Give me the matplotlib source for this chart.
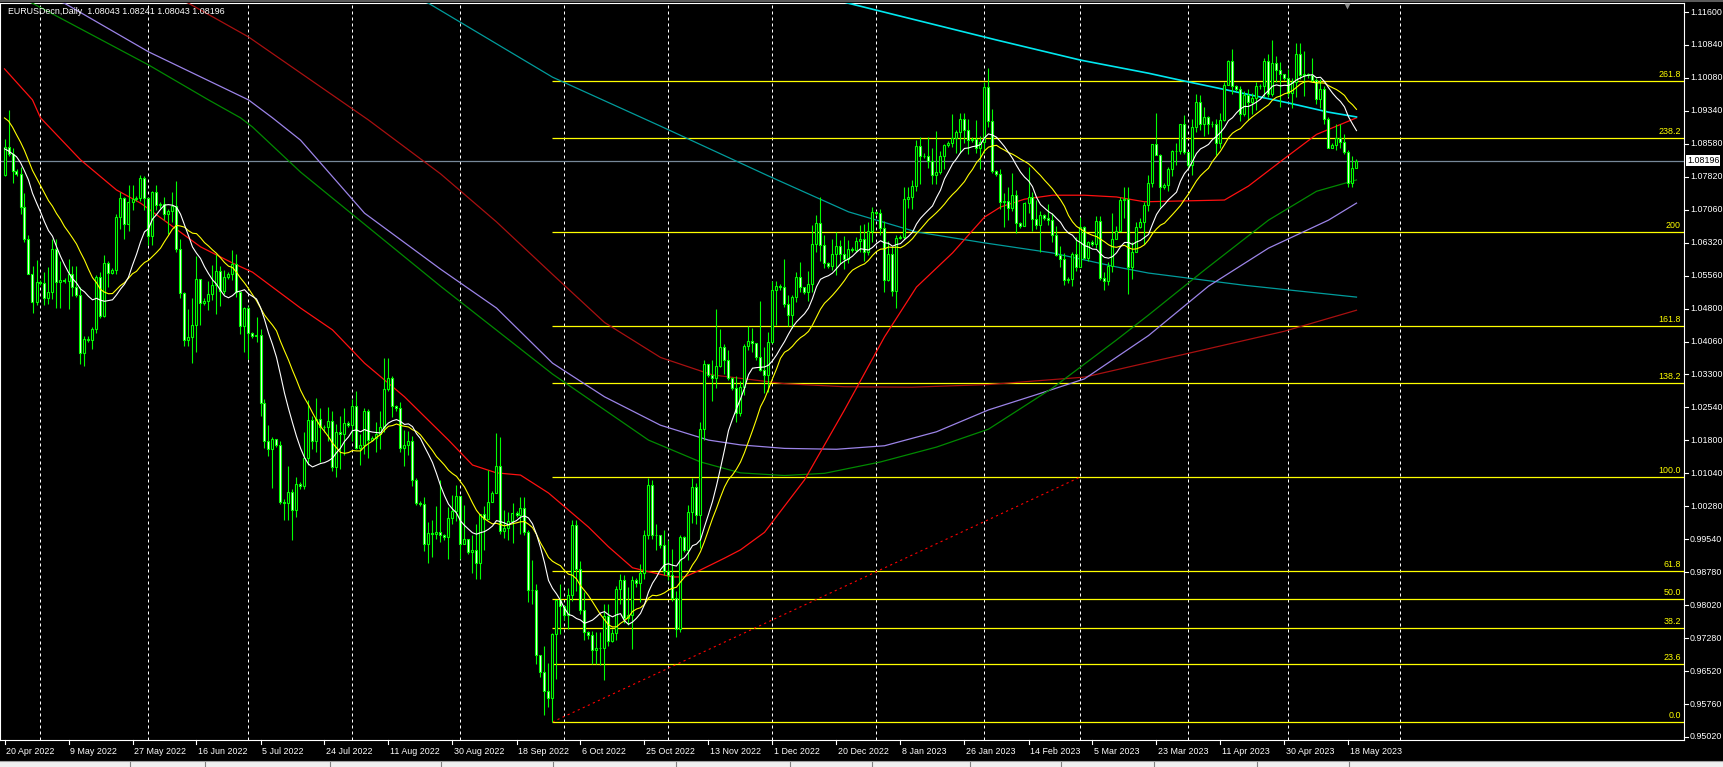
import matplotlib
matplotlib.use("Agg")
import matplotlib.pyplot as plt
import matplotlib.transforms as mtransforms
from matplotlib.patches import Rectangle
import numpy as np
import pandas as pd

plt.rcParams["font.family"] = ["Liberation Sans", "DejaVu Sans"]

# ---------------- data ----------------
title_text = "EURUSDecn,Daily  1.08043 1.08241 1.08043 1.08196"
current_price = 1.08196

# one bar per day except Saturday; the feed has no bar on 12 Jun 2022 and on 21 May 2023
first_day = "2022-04-20"
last_day = "2023-05-22"
missing_days = ["2022-06-12", "2023-05-21"]

# closes of the 20 bars before the first visible one (needed by the 13 / 21 averages)
pre_closes = [1.0985, 1.1087, 1.1158, 1.1067, 1.1047, 1.1040, 1.0972, 1.0904, 1.0900, 1.0880,
              1.0877, 1.0890, 1.0888, 1.0830, 1.0890, 1.0826, 1.0810, 1.0805, 1.0780, 1.0785]

first_open = 1.0787
# rows are weeks: Sun, Mon, Tue, Wed, Thu, Fri
closes = [
    1.0852, 1.0836, 1.0797,
    1.0790, 1.0714, 1.0640, 1.0560, 1.0497, 1.0543,
    1.0540, 1.0507, 1.0520, 1.0619, 1.0542, 1.0548,
    1.0545, 1.0561, 1.0530, 1.0513, 1.0380, 1.0412,
    1.0410, 1.0435, 1.0553, 1.0464, 1.0587, 1.0563,
    1.0570, 1.0691, 1.0734, 1.0676, 1.0725, 1.0732,
    1.0735, 1.0780, 1.0734, 1.0648, 1.0748, 1.0719,
    1.0720, 1.0697, 1.0705, 1.0716, 1.0618, 1.0518,
    1.0410, 1.0417, 1.0444, 1.0549, 1.0494,
    1.0500, 1.0515, 1.0536, 1.0567, 1.0521, 1.0553,
    1.0560, 1.0583, 1.0519, 1.0443, 1.0484, 1.0425,
    1.0420, 1.0422, 1.0265, 1.0180, 1.0160, 1.0183,
    1.0170, 1.0040, 1.0037, 1.0062, 1.0020, 1.0080,
    1.0075, 1.0140, 1.0227, 1.0180, 1.0230, 1.0212,
    1.0210, 1.0224, 1.0120, 1.0200, 1.0195, 1.0220,
    1.0215, 1.0260, 1.0163, 1.0170, 1.0248, 1.0181,
    1.0185, 1.0196, 1.0211, 1.0297, 1.0322, 1.0259,
    1.0255, 1.0162, 1.0170, 1.0179, 1.0089, 1.0038,
    1.0035, 0.9943, 0.9968, 0.9967, 0.9971, 0.9964,
    0.9960, 1.0002, 1.0018, 1.0053, 0.9943, 0.9955,
    0.9925, 0.9929, 0.9901, 1.0012, 1.0000, 1.0040,
    1.0060, 1.0121, 0.9972, 0.9979, 0.9995, 1.0015,
    1.0010, 1.0025, 0.9970, 0.9838, 0.9838, 0.9690,
    0.9650, 0.9607, 0.9592, 0.9737, 0.9815, 0.9801,
    0.9780, 0.9827, 0.9986, 0.9887, 0.9793, 0.9741,
    0.9735, 0.9700, 0.9705, 0.9705, 0.9778, 0.9721,
    0.9740, 0.9840, 0.9862, 0.9775, 0.9780, 0.9861,
    0.9855, 0.9878, 0.9963, 1.0079, 0.9965, 0.9963,
    0.9940, 0.9882, 0.9873, 0.9819, 0.9750, 0.9960,
    0.9930, 1.0017, 1.0074, 1.0010, 1.0207, 1.0354,
    1.0330, 1.0323, 1.0351, 1.0393, 1.0364, 1.0324,
    1.0300, 1.0242, 1.0303, 1.0397, 1.0408, 1.0402,
    1.0370, 1.0342, 1.0330, 1.0405, 1.0524, 1.0534,
    1.0530, 1.0492, 1.0467, 1.0508, 1.0555, 1.0531,
    1.0520, 1.0538, 1.0630, 1.0678, 1.0627, 1.0585,
    1.0580, 1.0607, 1.0624, 1.0606, 1.0594, 1.0618,
    1.0615, 1.0637, 1.0640, 1.0611, 1.0660, 1.0703,
    1.0700, 1.0666, 1.0546, 1.0607, 1.0521, 1.0643,
    1.0645, 1.0733, 1.0737, 1.0762, 1.0854, 1.0830,
    1.0830, 1.0819, 1.0788, 1.0794, 1.0830, 1.0855,
    1.0860, 1.0872, 1.0886, 1.0916, 1.0890, 1.0867,
    1.0870, 1.0849, 1.0862, 1.0989, 1.0910, 1.0796,
    1.0790, 1.0726, 1.0728, 1.0712, 1.0742, 1.0677,
    1.0670, 1.0723, 1.0738, 1.0687, 1.0673, 1.0695,
    1.0690, 1.0685, 1.0650, 1.0604, 1.0596, 1.0546,
    1.0550, 1.0606, 1.0576, 1.0668, 1.0597, 1.0633,
    1.0630, 1.0682, 1.0552, 1.0545, 1.0580, 1.0642,
    1.0660, 1.0730, 1.0733, 1.0576, 1.0611, 1.0669,
    1.0680, 1.0718, 1.0770, 1.0858, 1.0832, 1.0759,
    1.0765, 1.0800, 1.0843, 1.0843, 1.0903, 1.0840,
    1.0810, 1.0898, 1.0955, 1.0905, 1.0919, 1.0903,
    1.0905, 1.0860, 1.0913, 1.0992, 1.1047, 1.0991,
    1.0985, 1.0927, 1.0970, 1.0954, 1.0964, 1.0991,
    1.0990, 1.1048, 1.0973, 1.1044, 1.1028, 1.1018,
    1.1010, 1.0975, 1.1000, 1.1065, 1.1015, 1.1019,
    1.1015, 1.1005, 1.0961, 1.0985, 1.0915, 1.0850,
    1.0855, 1.0872, 1.0862, 1.0840, 1.0770, 1.08043,
    1.08196,
]
highs = [
    1.0870, 1.0936, 1.0850,
    1.0800, 1.0805, 1.0746, 1.0650, 1.0578, 1.0592,
    1.0548, 1.0566, 1.0576, 1.0641, 1.0642, 1.0590,
    1.0552, 1.0594, 1.0580, 1.0580, 1.0532, 1.0420,
    1.0418, 1.0440, 1.0558, 1.0566, 1.0605, 1.0590,
    1.0575, 1.0698, 1.0748, 1.0736, 1.0765, 1.0765,
    1.0740, 1.0787, 1.0784, 1.0736, 1.0750, 1.0764,
    1.0725, 1.0736, 1.0710, 1.0748, 1.0774, 1.0640,
    1.0520, 1.0480, 1.0506, 1.0601, 1.0547,
    1.0505, 1.0544, 1.0582, 1.0606, 1.0579, 1.0571,
    1.0565, 1.0615, 1.0606, 1.0522, 1.0486, 1.0488,
    1.0428, 1.0463, 1.0434, 1.0274, 1.0215, 1.0187,
    1.0180, 1.0180, 1.0046, 1.0121, 1.0070, 1.0096,
    1.0085, 1.0200, 1.0273, 1.0237, 1.0278, 1.0254,
    1.0215, 1.0257, 1.0247, 1.0217, 1.0235, 1.0254,
    1.0225, 1.0275, 1.0294, 1.0196, 1.0254, 1.0253,
    1.0190, 1.0222, 1.0248, 1.0368, 1.0368, 1.0328,
    1.0262, 1.0267, 1.0203, 1.0202, 1.0190, 1.0094,
    1.0042, 1.0050, 0.9993, 0.9998, 1.0031, 1.0090,
    0.9966, 1.0028, 1.0055, 1.0079, 1.0054, 1.0033,
    0.9955, 0.9963, 0.9989, 1.0010, 1.0030, 1.0113,
    1.0065, 1.0198, 1.0187, 1.0020, 1.0017, 1.0036,
    1.0018, 1.0050, 1.0051, 0.9976, 0.9907, 0.9852,
    0.9690, 0.9710, 0.9672, 0.9740, 0.9816, 0.9853,
    0.9795, 0.9843, 0.9999, 0.9999, 0.9905, 0.9833,
    0.9745, 0.9745, 0.9742, 0.9743, 0.9807, 0.9807,
    0.9750, 0.9847, 0.9875, 0.9873, 0.9845, 0.9870,
    0.9865, 0.9898, 0.9976, 1.0094, 1.0090, 0.9989,
    0.9965, 0.9976, 0.9952, 0.9932, 0.9836, 0.9965,
    0.9962, 1.0032, 1.0094, 1.0082, 1.0223, 1.0364,
    1.0355, 1.0364, 1.0481, 1.0434, 1.0401, 1.0386,
    1.0325, 1.0328, 1.0317, 1.0400, 1.0442, 1.0437,
    1.0400, 1.0500, 1.0395, 1.0429, 1.0544, 1.0545,
    1.0538, 1.0594, 1.0512, 1.0512, 1.0566, 1.0588,
    1.0530, 1.0568, 1.0673, 1.0695, 1.0736, 1.0650,
    1.0588, 1.0642, 1.0657, 1.0639, 1.0648, 1.0638,
    1.0622, 1.0645, 1.0672, 1.0675, 1.0679, 1.0714,
    1.0705, 1.0710, 1.0683, 1.0637, 1.0623, 1.0650,
    1.0650, 1.0760, 1.0760, 1.0776, 1.0868, 1.0874,
    1.0838, 1.0874, 1.0848, 1.0887, 1.0843, 1.0859,
    1.0865, 1.0927, 1.0890, 1.0930, 1.0929, 1.0915,
    1.0875, 1.0914, 1.0876, 1.1000, 1.1033, 1.0938,
    1.0798, 1.0802, 1.0747, 1.0760, 1.0791, 1.0752,
    1.0680, 1.0725, 1.0805, 1.0748, 1.0730, 1.0705,
    1.0698, 1.0720, 1.0700, 1.0670, 1.0625, 1.0608,
    1.0555, 1.0612, 1.0646, 1.0691, 1.0670, 1.0637,
    1.0638, 1.0694, 1.0694, 1.0566, 1.0588, 1.0700,
    1.0670, 1.0736, 1.0760, 1.0760, 1.0635, 1.0680,
    1.0690, 1.0725, 1.0787, 1.0857, 1.0930, 1.0835,
    1.0770, 1.0805, 1.0845, 1.0860, 1.0905, 1.0925,
    1.0840, 1.0916, 1.0973, 1.0970, 1.0942, 1.0922,
    1.0910, 1.0915, 1.0930, 1.0999, 1.1050, 1.1076,
    1.0992, 1.0990, 1.0980, 1.0985, 1.0975, 1.1000,
    1.0995, 1.1055, 1.1065, 1.1095, 1.1060, 1.1045,
    1.1015, 1.1030, 1.1010, 1.1090, 1.1090, 1.1070,
    1.1020, 1.1055, 1.1010, 1.1006, 1.0990, 1.0920,
    1.0860, 1.0905, 1.0905, 1.0880, 1.0844, 1.0830,
    1.08241,
]
lows = [
    1.0785, 1.0830, 1.0770,
    1.0785, 1.0697, 1.0635, 1.0560, 1.0472, 1.0490,
    1.0535, 1.0489, 1.0493, 1.0503, 1.0482, 1.0484,
    1.0540, 1.0480, 1.0510, 1.0508, 1.0354, 1.0350,
    1.0405, 1.0389, 1.0427, 1.0460, 1.0463, 1.0532,
    1.0560, 1.0560, 1.0663, 1.0642, 1.0660, 1.0707,
    1.0728, 1.0727, 1.0707, 1.0627, 1.0628, 1.0708,
    1.0712, 1.0685, 1.0653, 1.0680, 1.0610, 1.0506,
    1.0397, 1.0397, 1.0357, 1.0382, 1.0444,
    1.0490, 1.0478, 1.0502, 1.0469, 1.0488, 1.0514,
    1.0550, 1.0548, 1.0508, 1.0424, 1.0383, 1.0366,
    1.0415, 1.0406, 1.0236, 1.0162, 1.0144, 1.0072,
    1.0165, 1.0034, 0.9998, 0.9999, 0.9952, 1.0006,
    1.0070, 1.0070, 1.0123, 1.0160, 1.0153, 1.0130,
    1.0200, 1.0180, 1.0111, 1.0097, 1.0114, 1.0146,
    1.0210, 1.0180, 1.0160, 1.0123, 1.0150, 1.0141,
    1.0178, 1.0154, 1.0160, 1.0200, 1.0293, 1.0233,
    1.0248, 1.0154, 1.0121, 1.0147, 1.0075, 1.0033,
    1.0030, 0.9927, 0.9901, 0.9913, 0.9955, 0.9948,
    0.9952, 0.9908, 0.9988, 0.9995, 0.9910, 0.9950,
    0.9920, 0.9877, 0.9864, 0.9864, 0.9929, 1.0000,
    1.0040, 1.0060, 0.9966, 0.9956, 0.9953, 0.9945,
    1.0005, 0.9967, 0.9965, 0.9810, 0.9807, 0.9670,
    0.9640, 0.9553, 0.9571, 0.95364, 0.9635, 0.9737,
    0.9770, 0.9750, 0.9813, 0.9835, 0.9784, 0.9723,
    0.9725, 0.9670, 0.9669, 0.9667, 0.9632, 0.9710,
    0.9720, 0.9723, 0.9807, 0.9763, 0.9758, 0.9703,
    0.9845, 0.9810, 0.9864, 0.9955, 0.9954, 0.9930,
    0.9935, 0.9872, 0.9860, 0.9812, 0.9730, 0.9742,
    0.9925, 0.9906, 0.9991, 0.9990, 0.9935, 1.0181,
    1.0325, 1.0271, 1.0300, 1.0347, 1.0333, 1.0318,
    1.0295, 1.0223, 1.0235, 1.0283, 1.0386, 1.0382,
    1.0365, 1.0338, 1.0288, 1.0290, 1.0403, 1.0445,
    1.0525, 1.0485, 1.0443, 1.0437, 1.0497, 1.0520,
    1.0515, 1.0500, 1.0519, 1.0611, 1.0590, 1.0574,
    1.0575, 1.0570, 1.0559, 1.0584, 1.0573, 1.0585,
    1.0612, 1.0611, 1.0612, 1.0590, 1.0605, 1.0634,
    1.0695, 1.0650, 1.0519, 1.0544, 1.0510, 1.0484,
    1.0640, 1.0640, 1.0711, 1.0709, 1.0751, 1.0767,
    1.0825, 1.0804, 1.0766, 1.0766, 1.0790, 1.0800,
    1.0852, 1.0852, 1.0838, 1.0837, 1.0860, 1.0835,
    1.0862, 1.0838, 1.0801, 1.0838, 1.0896, 1.0792,
    1.0785, 1.0710, 1.0669, 1.0685, 1.0704, 1.0655,
    1.0665, 1.0670, 1.0700, 1.0660, 1.0664, 1.0612,
    1.0685, 1.0672, 1.0633, 1.0601, 1.0576, 1.0535,
    1.0540, 1.0533, 1.0567, 1.0578, 1.0595, 1.0590,
    1.0625, 1.0620, 1.0547, 1.0525, 1.0536, 1.0566,
    1.0640, 1.0660, 1.0690, 1.0516, 1.0550, 1.0610,
    1.0665, 1.0630, 1.0706, 1.0760, 1.0832, 1.0715,
    1.0755, 1.0750, 1.0785, 1.0810, 1.0835, 1.0835,
    1.0800, 1.0788, 1.0886, 1.0890, 1.0877, 1.0880,
    1.0898, 1.0832, 1.0850, 1.0910, 1.0992, 1.0972,
    1.0980, 1.0910, 1.0922, 1.0914, 1.0926, 1.0937,
    1.0985, 1.0965, 1.0965, 1.0968, 1.1000, 1.0943,
    1.1005, 1.0965, 1.0940, 1.0965, 1.1006, 1.0967,
    1.1010, 1.1000, 1.0950, 1.0940, 1.0905, 1.0850,
    1.0848, 1.0845, 1.0850, 1.0835, 1.0760, 1.0760,
    1.08043,
]

# long moving averages (bar number, price)
ma_red_bar = [0, 7, 9, 19, 28, 34, 49, 57, 62, 74, 82, 90, 100, 111, 117, 123, 129, 136, 141,
              146, 151, 157, 161, 167, 170, 174, 180, 184, 190, 200, 210, 220, 228, 237, 245,
              249, 255, 262, 270, 278, 285, 305, 311, 320, 328, 338]
ma_red = [1.1030, 1.0959, 1.0918, 1.0822, 1.0753, 1.0723, 1.0623, 1.0586, 1.0565, 1.0483,
          1.0433, 1.0357, 1.0280, 1.0181, 1.0124, 1.0106, 1.0101, 1.0060, 1.0021, 0.9982,
          0.9937, 0.9889, 0.9880, 0.9868, 0.9868, 0.9884, 0.9911, 0.9930, 0.9970, 1.0090,
          1.0250, 1.0417, 1.0531, 1.0609, 1.0691, 1.0714, 1.0732, 1.0741, 1.0741, 1.0737,
          1.0726, 1.0730, 1.0762, 1.0825, 1.0880, 1.0918]

ma_green_bar = [0, 7, 36, 51, 59, 62, 74, 109, 137, 161, 174, 184, 195, 205, 219, 233, 246,
                262, 278, 286, 300, 316, 328, 338]
ma_green = [1.1205, 1.1180, 1.1039, 1.0959, 1.0918, 1.0897, 1.0794, 1.0533, 1.0332, 1.0181,
            1.0131, 1.0106, 1.0100, 1.0105, 1.0131, 1.0165, 1.0206, 1.0300, 1.0410, 1.0467,
            1.0570, 1.0684, 1.0750, 1.0776]

ma_purple_bar = [0, 15, 36, 61, 67, 74, 90, 109, 123, 137, 150, 164, 176, 184, 195, 208, 220,
                 233, 246, 258, 270, 286, 301, 316, 331, 338]
ma_purple = [1.1230, 1.1180, 1.1069, 1.0959, 1.0918, 1.0867, 1.0700, 1.0572, 1.0483, 1.0357,
             1.0280, 1.0215, 1.0181, 1.0170, 1.0162, 1.0160, 1.0168, 1.0200, 1.0250, 1.0285,
             1.0321, 1.0420, 1.0533, 1.0620, 1.0684, 1.0723]

ma_maroon_bar = [0, 46, 61, 91, 109, 123, 137, 150, 164, 177, 195, 210, 227, 246, 270, 301,
                 320, 338]
ma_maroon = [1.1350, 1.1180, 1.1103, 1.0913, 1.0790, 1.0680, 1.0560, 1.0450, 1.0370, 1.0330,
             1.0310, 1.0303, 1.0302, 1.0308, 1.0325, 1.0390, 1.0430, 1.0478]

ma_teal_bar = [100, 106, 137, 164, 191, 211, 228, 245, 262, 278, 286, 310, 338]
ma_teal = [1.1200, 1.1180, 1.1011, 1.0899, 1.0785, 1.0703, 1.0657, 1.0632, 1.0609, 1.0577,
           1.0563, 1.0535, 1.0508]

ma_aqua_bar = [200, 211, 248, 269, 286, 294, 307, 321, 331, 338]
ma_aqua = [1.1210, 1.1180, 1.1096, 1.1050, 1.1020, 1.1004, 1.0979, 1.0952, 1.0931, 1.0920]

# Fibonacci retracement drawn from the September 2022 low
fib_low = 0.95364
fib_high = 1.00967
fib_start_day = "2022-09-28"
fib_end_day = "2023-03-01"
fib_levels = [0.0, 23.6, 38.2, 50.0, 61.8, 100.0, 138.2, 161.8, 200.0, 238.2, 261.8]
fib_labels = ["0.0", "23.6", "38.2", "50.0", "61.8", "100.0", "138.2", "161.8", "200", "238.2", "261.8"]

price_labels = ["1.11600", "1.10840", "1.10080", "1.09340", "1.08580", "1.07820", "1.07060",
                "1.06320", "1.05560", "1.04800", "1.04060", "1.03300", "1.02540", "1.01800",
                "1.01040", "1.00280", "0.99540", "0.98780", "0.98020", "0.97280", "0.96520",
                "0.95760", "0.95020"]
date_labels = ["20 Apr 2022", "9 May 2022", "27 May 2022", "16 Jun 2022", "5 Jul 2022",
               "24 Jul 2022", "11 Aug 2022", "30 Aug 2022", "18 Sep 2022", "6 Oct 2022",
               "25 Oct 2022", "13 Nov 2022", "1 Dec 2022", "20 Dec 2022", "8 Jan 2023",
               "26 Jan 2023", "14 Feb 2023", "5 Mar 2023", "23 Mar 2023", "11 Apr 2023",
               "30 Apr 2023", "18 May 2023"]

# ---------------- layout (pixels of the 1724 x 767 screenshot) ----------------
W, H = 1724, 767
PLOT_RIGHT, PLOT_TOP, PLOT_BOTTOM = 1684, 3, 740
BAR_PX, BAR0_PX = 4, 4
PRICE_TOP, PRICE_BOTTOM = 1.11806, 0.94951
LIME = "#00ff00"
FONT = 6.4

days = pd.date_range(first_day, last_day, freq="D")
days = days[(days.dayofweek != 5) & ~days.isin(pd.to_datetime(missing_days))]
n = len(days)
bars = np.arange(n)

opens = np.array([first_open] + closes[:-1])
close_arr = np.array(closes)
high_arr = np.array(highs)
low_arr = np.array(lows)

all_closes = pd.Series(pre_closes + closes)
ma13 = all_closes.rolling(13).mean().to_numpy()[len(pre_closes):]
ma21 = all_closes.rolling(21).mean().to_numpy()[len(pre_closes):]

fig = plt.figure(figsize=(W / 100, H / 100), dpi=100, facecolor="black")
ax = fig.add_axes([0, 1 - PLOT_BOTTOM / H, PLOT_RIGHT / W, (PLOT_BOTTOM - PLOT_TOP) / H])
ax.set_facecolor("black")
for spine in ax.spines.values():
    spine.set_color("white")
    spine.set_linewidth(0.8)
ax.set_xticks([])
ax.set_yticks([])

# month grid (first bar of each month) plus the first day of June in the future area
month_starts = [i for i in range(1, n) if days[i].month != days[i - 1].month]
future_month_bar = n - 1 + (pd.Timestamp("2023-06-01") - days[-1]).days + 1
for b in month_starts + [future_month_bar]:
    ax.axvline(b, color="white", lw=0.72, ls=(0, (3, 3)), zorder=1)

# Fibonacci levels
fib_start = int(np.where(days == pd.Timestamp(fib_start_day))[0][0])
fib_end = int(np.where(days == pd.Timestamp(fib_end_day))[0][0])
fib_prices = [fib_low + lvl / 100 * (fib_high - fib_low) for lvl in fib_levels]
x_right = (PLOT_RIGHT - BAR0_PX - 0.5) / BAR_PX
ax.hlines(fib_prices, fib_start, x_right, color="#ffff00", lw=0.9, zorder=2)
ax.plot([fib_start, fib_end], [fib_low, fib_high], color="#ff0000", lw=0.8,
        ls=(0, (2, 3)), zorder=2)
label_tf = mtransforms.blended_transform_factory(ax.transAxes, ax.transData)
for price, text in zip(fib_prices, fib_labels):
    ax.text((PLOT_RIGHT - 3) / PLOT_RIGHT, price + 0.00045, text, transform=label_tf,
            ha="right", va="bottom", color="#ffff00", fontsize=FONT)

# current price line
ax.axhline(current_price, color="#778899", lw=0.9, zorder=2)

# moving averages
ax.plot(ma_teal_bar, ma_teal, color="#009c9c", lw=0.9, zorder=3)
ax.plot(ma_maroon_bar, ma_maroon, color="#a81010", lw=0.9, zorder=3)
ax.plot(ma_purple_bar, ma_purple, color="#9c84e8", lw=0.9, zorder=3)
ax.plot(ma_green_bar, ma_green, color="#008a00", lw=0.9, zorder=3)
ax.plot(ma_red_bar, ma_red, color="#ff1010", lw=0.9, zorder=3)
ax.plot(ma_aqua_bar, ma_aqua, color="#00e8f0", lw=1.2, zorder=3)

# candles
ax.vlines(bars, low_arr, high_arr, color=LIME, lw=0.8, zorder=4)
body_low = np.minimum(opens, close_arr)
body_h = np.abs(close_arr - opens)
fills = np.where(close_arr < opens, "white", "black")
ax.bar(bars, body_h, bottom=body_low, width=0.5, color=fills, edgecolor=LIME,
       linewidth=0.8, zorder=5)

ax.plot(bars, ma21, color="#ffff00", lw=0.8, zorder=6)
ax.plot(bars, ma13, color="white", lw=0.8, zorder=6)

ax.set_xlim(-(BAR0_PX + 0.5) / BAR_PX, x_right)
ax.set_ylim(PRICE_BOTTOM, PRICE_TOP)

# price scale on the right
price_tf = mtransforms.blended_transform_factory(fig.transFigure, ax.transData)
for price, text in zip(np.linspace(1.116, 0.9502, len(price_labels)), price_labels):
    fig.add_artist(plt.Line2D([PLOT_RIGHT / W, (PLOT_RIGHT + 4) / W], [price, price],
                              transform=price_tf, color="white", lw=0.8))
    fig.text(1690 / W, price, text, transform=price_tf, ha="left", va="center",
             color="white", fontsize=FONT)
fig.text(1687 / W, current_price, f"{current_price:.5f}", transform=price_tf, ha="left",
         va="center", color="black", fontsize=FONT,
         bbox=dict(boxstyle="square,pad=0.12", fc="white", ec="none"))

# date scale at the bottom
date_tf = mtransforms.blended_transform_factory(ax.transData, fig.transFigure)
for k, text in enumerate(date_labels):
    b = 16 * k
    fig.add_artist(plt.Line2D([b, b], [1 - PLOT_BOTTOM / H, 1 - (PLOT_BOTTOM + 4) / H],
                              transform=date_tf, color="white", lw=0.8))
    fig.text(b + 0.4, 1 - 751 / H, text, transform=date_tf, ha="left", va="center",
             color="white", fontsize=FONT)

# symbol line
fig.text(8 / W, 1 - 12 / H, title_text, ha="left", va="center", color="white", fontsize=FONT)

# chart-shift marker
ax.plot([(1347 - BAR0_PX) / BAR_PX], [PRICE_TOP - 0.0008], marker="v", ms=5, color="#8c8c8c",
        mec="none", clip_on=False, zorder=7)

# window chrome: thin bar on top and tab strip below
fig.patches.append(Rectangle((0, 1 - 2 / H), 1, 2 / H, transform=fig.transFigure,
                             fc="#5a5a5a", ec="none"))
fig.patches.append(Rectangle((0, 0), 1, 6 / H, transform=fig.transFigure,
                             fc="#f0f0f0", ec="none"))
fig.add_artist(plt.Line2D([0, 1], [6 / H, 6 / H], transform=fig.transFigure,
                          color="#a0a0a0", lw=0.8))
for sx in [130, 205, 330, 441, 553, 676, 790, 872, 970, 1061, 1154, 1257, 1349]:
    fig.add_artist(plt.Line2D([sx / W, sx / W], [0, 5 / H], transform=fig.transFigure,
                              color="#808080", lw=0.8))

fig.savefig("out.png", dpi=100, facecolor="black")
plt.close(fig)
